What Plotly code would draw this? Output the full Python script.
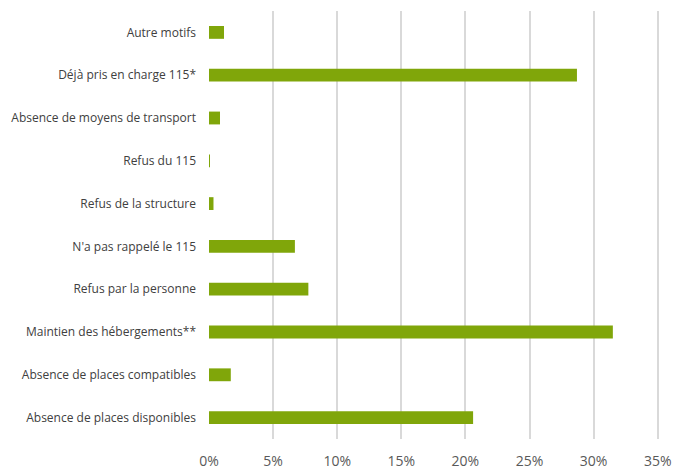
import plotly.graph_objects as go

categories = [
    "Absence de places disponibles",
    "Absence de places compatibles",
    "Maintien des hébergements**",
    "Refus par la personne",
    "N'a pas rappelé le 115",
    "Refus de la structure",
    "Refus du 115",
    "Absence de moyens de transport",
    "Déjà pris en charge 115*",
    "Autre motifs",
]
values = [20.6, 1.7, 31.5, 7.75, 6.7, 0.35, 0.05, 0.86, 28.7, 1.17]
tick_vals = [0, 5, 10, 15, 20, 25, 30, 35]
tick_text = ["0%", "5%", "10%", "15%", "20%", "25%", "30%", "35%"]

fig = go.Figure(go.Bar(
    x=values, y=categories, orientation="h",
    marker=dict(color="#80A60A", line=dict(width=0)),
))

fig.update_layout(
    width=673, height=470,
    margin=dict(l=209, r=14, t=10.5, b=30.5, autoexpand=False),
    paper_bgcolor="white", plot_bgcolor="white",
    bargap=0.7,
    showlegend=False,
    font=dict(family="Open Sans", color="#595959"),
)
fig.update_xaxes(
    range=[0, 35.1], tickvals=tick_vals, ticktext=tick_text,
    showgrid=True, gridcolor="#D9D9D9", gridwidth=1.5,
    zeroline=False, showline=False, automargin=False,
    tickfont=dict(size=14, color="#595959"),
    ticks="", ticklabelstandoff=12,
)
fig.update_yaxes(
    categoryorder="array", categoryarray=categories,
    showgrid=False, zeroline=False, showline=False, automargin=False,
    tickfont=dict(size=12, color="#404040"),
    ticks="", ticklabelstandoff=12,
)
fig.write_html(
    "out.html",
    config={"displayModeBar": False},
    post_script="document.body.style.margin='0';document.body.style.overflow='hidden';",
)
